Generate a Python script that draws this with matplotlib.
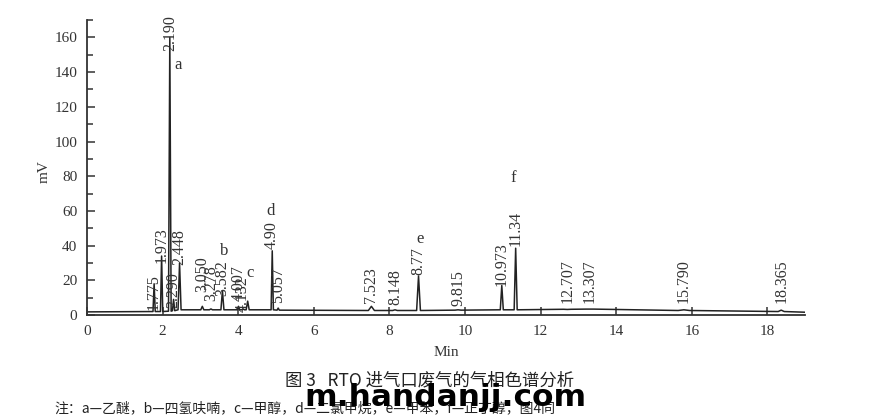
import matplotlib.pyplot as plt
import numpy as np
from matplotlib.ticker import MultipleLocator

# picchi del cromatogramma: tempo di ritenzione, altezza (mV), semilarghezza, base
rt     = [1.775, 1.973, 2.190, 2.290, 2.448, 3.050, 3.278, 3.582, 4.007, 4.132, 4.250, 4.900, 5.057,
          7.523, 8.148, 8.770, 9.815, 10.973, 11.340, 12.707, 13.307, 15.790, 18.365]
height = [18, 34, 160, 9, 30, 5, 3.5, 14, 5, 3.5, 8, 37, 4,
          5, 3, 22.5, 3, 17, 38.5, 3.2, 3.4, 3, 2.8]
width  = [0.03, 0.03, 0.035, 0.03, 0.04, 0.04, 0.04, 0.04, 0.03, 0.03, 0.04, 0.03, 0.03,
          0.08, 0.06, 0.05, 0.08, 0.04, 0.04, 0.1, 0.1, 0.15, 0.08]
base   = [2.0, 2.0, 2.2, 2.5, 3.0, 3.0, 3.0, 3.0, 3.0, 3.0, 3.0, 3.0, 2.8,
          2.6, 2.6, 2.6, 2.8, 3.0, 3.0, 3.3, 3.4, 2.6, 2.0]
labels = ["1.775", "1.973", "2.190", "2.290", "2.448", "3.050", "3.278", "3.582", "4.007", "4.132", None, "4.90", "5.057",
          "7.523", "8.148", "8.77", "9.815", "10.973", "11.34", "12.707", "13.307", "15.790", "18.365"]
label_y = [3, 30, 152, 4, 29, 13, 8, 11, 8, 2, None, 38, 7,
           7, 6, 23, 5, 17, 40, 7, 7, 7, 7]

# lettere dei composti
letters  = ["a", "b", "c", "d", "e", "f"]
letter_x = [2.42, 3.64, 4.3, 4.86, 8.81, 11.28]
letter_y = [144, 37, 24, 60, 44, 79]

t_start, t_end = 0.0, 19.0
base_start, base_end = 1.8, 1.6

# costruisco la traccia come polilinea
xs = [t_start]
ys = [base_start]
for r, h, w, b in zip(rt, height, width, base):
    xs += [r - w, r, r + w]
    ys += [b, h, b]
xs.append(t_end)
ys.append(base_end)

serif = "Liberation Serif"
grey = "#333333"

fig = plt.figure(figsize=(8.8, 4.19), dpi=100)
ax = fig.add_axes([0.0989, 0.2482, 0.8161, 0.7038])
ax.plot(xs, ys, color="#222222", lw=1.1)

ax.set_xlim(0, 19)
ax.set_ylim(0, 170)
ax.spines["top"].set_visible(False)
ax.spines["right"].set_visible(False)
for s in ["left", "bottom"]:
    ax.spines[s].set_linewidth(1.3)
    ax.spines[s].set_color(grey)

ax.yaxis.set_major_locator(MultipleLocator(20))
ax.yaxis.set_minor_locator(MultipleLocator(10))
ax.set_xticks(range(0, 19, 2))
ax.tick_params(axis="both", which="major", direction="in", length=6, width=1.1, color=grey,
               labelsize=11, labelcolor=grey, pad=7)
ax.tick_params(axis="y", which="minor", direction="in", length=4, width=1.1, color=grey)
for lab in ax.get_xticklabels() + ax.get_yticklabels():
    lab.set_family(serif)

ax.set_xlabel("Min", family=serif, fontsize=11, color=grey, labelpad=6)
ax.set_ylabel("mV", family=serif, fontsize=11, color=grey)
ax.yaxis.set_label_coords(-0.05, 0.485)

for r, lab, ly in zip(rt, labels, label_y):
    if lab is None:
        continue
    ax.text(r, ly, lab, rotation=90, ha="center", va="bottom", family=serif,
            fontsize=11.5, color=grey)

for lt, lx, ly in zip(letters, letter_x, letter_y):
    ax.text(lx, ly, lt, ha="center", va="center", family=serif, fontsize=12, color=grey)

cjk = ["Noto Sans CJK SC", "DejaVu Sans"]
fig.text(0.488, 0.093, "图 3   RTO 进气口废气的气相色谱分析", ha="center", va="center",
         family=cjk, fontsize=12.5, color="#222222")
fig.text(0.062, 0.026, "注：a—乙醚，b—四氢呋喃，c—甲醇，d—二氯甲烷，e—甲苯，f—正丁醇，图4同",
         ha="left", va="center", family=cjk, fontsize=10, color="#222222")
fig.text(0.506, 0.052, "m.handanjj.com", ha="center", va="center", family="DejaVu Sans",
         fontweight="bold", fontsize=22.5, color="black")

fig.savefig("out.png", dpi=100)
